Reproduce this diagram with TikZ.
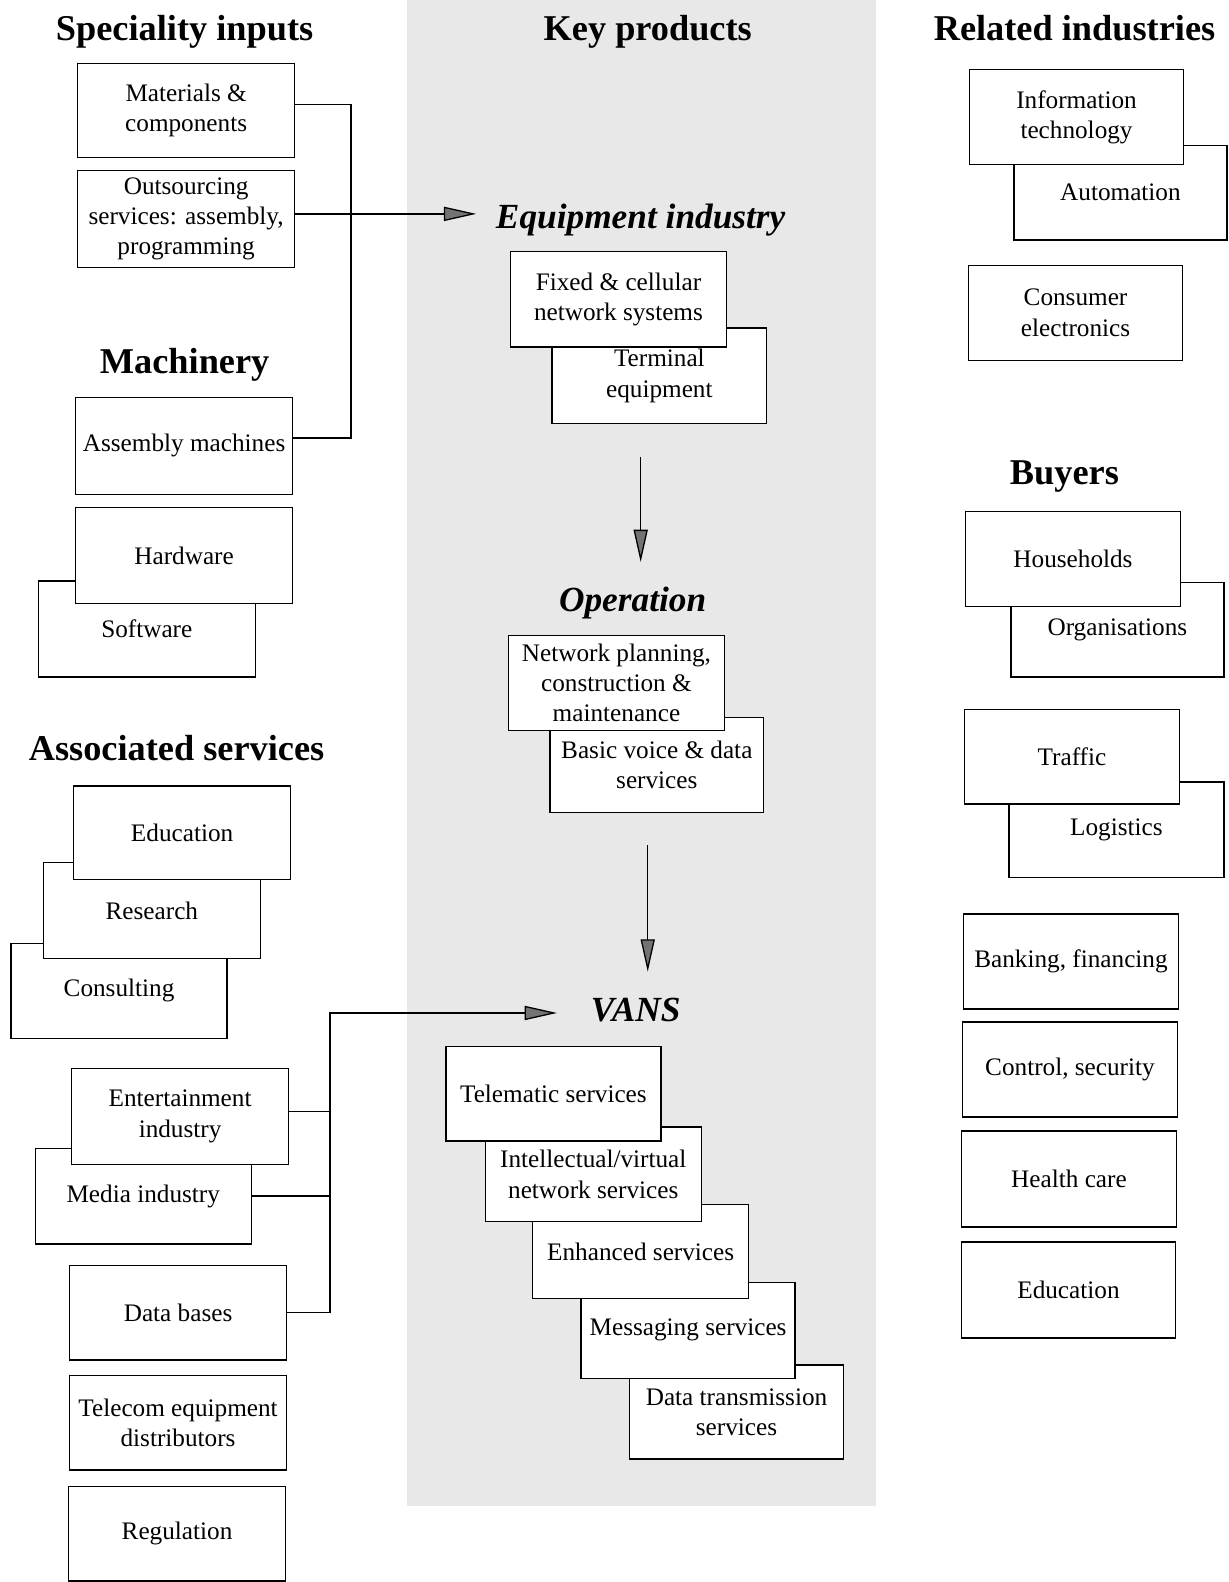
\documentclass[tikz,border=0pt]{standalone}
\usepackage{fontspec}
\setmainfont{Liberation Serif}
\usetikzlibrary{arrows.meta}
\newcommand\bodyfnt{\fontsize{25}{30}\selectfont}
\newcommand\headfnt{\fontsize{36}{42}\selectfont\bfseries}
\newcommand\iheadfnt{\fontsize{35}{42}\selectfont\bfseries\itshape}
\newcommand\bx[6]{\node[box, minimum width={(#4-#2)*1pt}, minimum height={(#5-#3)*1pt}] (#1) at ({(#2+#4)/2},{(#3+#5)/2+1}) {#6};}
\begin{document}
\begin{tikzpicture}[x=1pt,y=-1pt,
  box/.style={draw, fill=white, line width=1.3pt, align=center, inner sep=0pt, font=\bodyfnt},
  conn/.style={line width=1.3pt},
  arr/.style={conn, -{Triangle[length=32pt,width=14pt,fill=black!55]}},
  head/.style={inner sep=0pt, anchor=base, font=\headfnt},
  ihead/.style={inner sep=0pt, anchor=base, font=\iheadfnt}]
\useasboundingbox (0,0) rectangle (1218,1568);
\fill[black!9] (403,0) rectangle (868,1493);

% ---- left column
\node[head] (hsi) at (183,40) {Speciality inputs};
\bx{mat}{77}{62}{292}{155}{Materials \&\\components}
\bx{out}{77}{168}{292}{264}{Outsourcing\\services: assembly,\\programming}
\node[head] (hmach) at (183,370) {Machinery};
\bx{asm}{75}{393}{290}{489}{Assembly machines}
\bx{sw}{38}{575}{253}{670}{Software}
\bx{hw}{75}{502}{290}{597}{Hardware}
\node[head] (has) at (175,754) {Associated services};
\bx{cons}{11}{934}{225}{1028}{Consulting}
\bx{res}{43}{854}{258}{949}{Research}
\bx{edu}{73}{778}{288}{871}{Education}
\bx{med}{35}{1137}{249}{1232}{Media industry}
\bx{ent}{71}{1058}{286}{1153}{Entertainment\\industry}
\bx{db}{69}{1253}{284}{1347}{Data bases}
\bx{tel}{69}{1362}{284}{1456}{Telecom equipment\\distributors}
\bx{reg}{68}{1472}{283}{1566}{Regulation}

% ---- centre column
\node[head] (hkp) at (642,40) {Key products};
\node[ihead] (heq) at (635,226) {Equipment industry};
\bx{term}{547}{324}{760}{419}{Terminal\\equipment}
\bx{fix}{506}{248}{720}{343}{Fixed \& cellular\\network systems}
\node[ihead] (hop) at (627,606) {Operation};
\bx{basic}{545}{710}{757}{804}{Basic voice \& data\\services}
\bx{net}{504}{629}{718}{723}{Network planning,\\construction \&\\maintenance}
\node[ihead] (hvans) at (630,1012) {VANS};
\bx{dts}{624}{1352}{836}{1445}{Data transmission\\services}
\bx{msg}{576}{1270}{788}{1365}{Messaging services}
\bx{enh}{528}{1193}{742}{1286}{Enhanced services}
\bx{ivn}{481}{1116}{695}{1210}{Intellectual/virtual\\network services}
\bx{tms}{442}{1036}{655}{1130}{Telematic services}

% ---- right column
\node[head] (hri) at (1065,40) {Related industries};
\bx{aut}{1005}{143}{1216}{237}{Automation}
\bx{it}{961}{68}{1173}{162}{Information\\technology}
\bx{ce}{960}{262}{1172}{356}{Consumer\\electronics}
\node[head] (hbuy) at (1055,480) {Buyers};
\bx{org}{1002}{576}{1213}{670}{Organisations}
\bx{hh}{957}{506}{1170}{600}{Households}
\bx{log}{1000}{774}{1213}{869}{Logistics}
\bx{traf}{956}{702}{1169}{796}{Traffic}
\bx{bank}{955}{905}{1168}{999}{Banking, financing}
\bx{ctrl}{954}{1012}{1167}{1106}{Control, security}
\bx{hc}{953}{1120}{1166}{1215}{Health care}
\bx{edu2}{953}{1230}{1165}{1325}{Education}

% ---- connectors
\coordinate (jt) at (348,0);
\coordinate (matOut) at ([yshift=6pt]mat.east);
\coordinate (asmOut) at ([yshift=8pt]asm.east);
\draw[conn] (matOut) -| (jt |- asmOut) -- (asmOut);
\coordinate (eqTip) at (472,212);
\draw[arr] (out.east |- eqTip) -- (eqTip);

\coordinate (opTip) at (635,557);
\draw[arr] (opTip |- term.south) ++(0,32) -- (opTip);
\coordinate (vaTip) at (642,963);
\draw[arr] (vaTip |- basic.south) ++(0,32) -- (vaTip);

\coordinate (jv) at (327,1004);
\coordinate (vTip) at (552,1004);
\coordinate (entOut) at ([yshift=5pt]ent.east);
\draw[conn] (entOut) -- (entOut -| jv);
\draw[conn] (med.east) -- (med.east -| jv);
\draw[arr] (db.east) -| (jv) -- (vTip);
\end{tikzpicture}
\end{document}
